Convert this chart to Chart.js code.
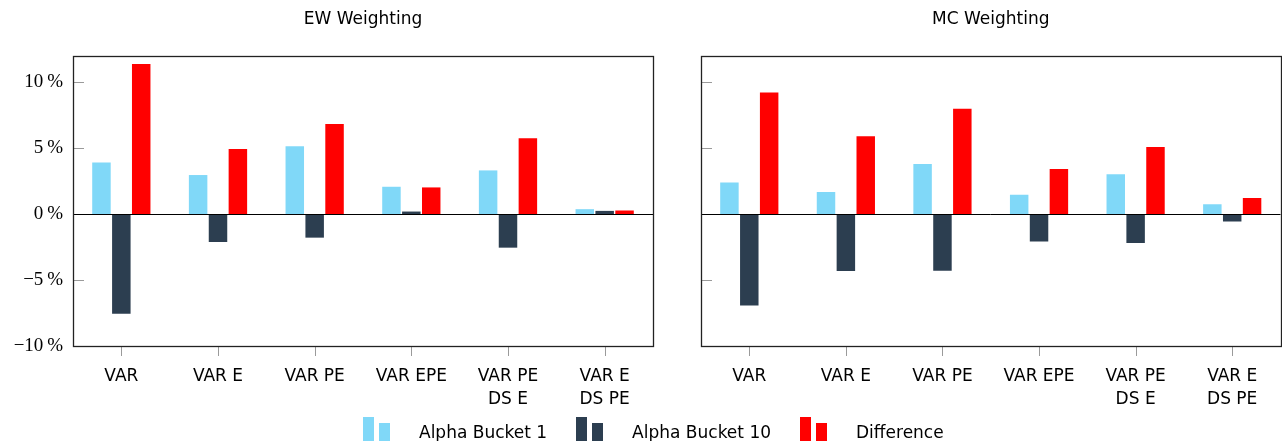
<!DOCTYPE html>
<html>
<head>
<meta charset="utf-8">
<script src="https://cdn.jsdelivr.net/npm/chart.js@4/dist/chart.umd.min.js"></script>
<style>
  html, body { margin:0; padding:0; background:#fff; overflow:hidden; }
  #wrap { position:relative; width:1282px; height:441px; }
  canvas { position:absolute; top:0; }
  #ew { left:0; }
  #mc { left:660px; }
  #legend { position:absolute; left:363px; top:417px; display:flex; align-items:flex-start;
    font-family:"DejaVu Sans", sans-serif; font-size:17px; line-height:17px; color:#000; }
  .icon { display:flex; align-items:flex-start; margin-right:29px; }
  .icon span { display:block; width:11px; height:40px; }
  .icon span + span { margin-left:5px; margin-top:6px; }
  .lbl { margin-top:7px; margin-right:29px; white-space:nowrap; }
</style>
</head>
<body>
<div id="wrap">
  <canvas id="ew" width="660" height="441"></canvas>
  <canvas id="mc" width="622" height="441"></canvas>
  <div id="legend"></div>
</div>
<script>
// categories (multi-line labels as arrays)
const categories = [['VAR'], ['VAR E'], ['VAR PE'], ['VAR EPE'], ['VAR PE', 'DS E'], ['VAR E', 'DS PE']];
const seriesNames = ['Alpha Bucket 1', 'Alpha Bucket 10', 'Difference'];
const seriesColors = ['#80d8f8', '#2c3e50', '#ff0000'];
const yTicks = [-10, -5, 0, 5, 10];
const yMin = -10, yMax = 12;

// EW weighting (%)
const ewBucket1  = [3.93, 2.97, 5.15, 2.08, 3.32, 0.38];
const ewBucket10 = [-7.56, -2.11, -1.78, 0.20, -2.54, 0.25];
const ewDiff     = [11.40, 4.95, 6.85, 2.03, 5.76, 0.28];

// MC weighting (%)
const mcBucket1  = [2.41, 1.68, 3.81, 1.47, 3.02, 0.76];
const mcBucket10 = [-6.93, -4.31, -4.29, -2.08, -2.18, -0.56];
const mcDiff     = [9.24, 5.91, 8.00, 3.43, 5.10, 1.22];

Chart.defaults.color = '#000';
Chart.defaults.font.family = '"DejaVu Sans", sans-serif';

// frame, inner y ticks, outer x ticks, zero line, panel title
const framePlugin = {
  id: 'frame',
  afterDatasetsDraw(chart, args, opts){
    const {ctx, chartArea:a, scales:{x, y}} = chart;
    const line = (x1,y1,x2,y2)=>{ ctx.beginPath(); ctx.moveTo(x1,y1); ctx.lineTo(x2,y2); ctx.stroke(); };
    ctx.save();
    ctx.strokeStyle = '#9a9a9a'; ctx.lineWidth = 1;
    y.ticks.forEach(t=>{
      const py = Math.round(y.getPixelForValue(t.value)) + 0.5;
      line(a.left, py, a.left + 11, py);
    });
    x.ticks.forEach((t,i)=>{
      const px = Math.round(x.getPixelForTick(i)) + 0.5;
      line(px, a.bottom, px, a.bottom + 10);
    });
    ctx.strokeStyle = '#000'; ctx.lineWidth = 1;
    const zy = Math.round(y.getPixelForValue(0)) + 0.5;
    line(a.left, zy, a.right, zy);
    ctx.strokeStyle = '#222'; ctx.lineWidth = 1.3;
    ctx.strokeRect(Math.round(a.left)+0.5, Math.round(a.top)+0.5, Math.round(a.width), Math.round(a.height));
    ctx.fillStyle = '#000';
    ctx.font = '17px "DejaVu Sans", sans-serif';
    ctx.textAlign = 'center'; ctx.textBaseline = 'middle';
    ctx.fillText(opts.text, (a.left + a.right)/2, 20);
    ctx.restore();
  }
};

function makeChart(id, title, b1, b10, diff, showYLabels, yWidth, padRight){
  const data = [b1, b10, diff];
  return new Chart(document.getElementById(id), {
    type: 'bar',
    data: {
      labels: categories,
      datasets: seriesNames.map((name, i)=>({
        label: name, data: data[i], backgroundColor: seriesColors[i],
        borderWidth: 0, categoryPercentage: 0.617, barPercentage: 0.93
      }))
    },
    options: {
      responsive: false, animation: false,
      layout: { padding: { top: 56, bottom: 0, left: 0, right: padRight } },
      plugins: { legend: { display: false }, title: { display: false }, tooltip: { enabled: false },
        frame: { text: title } },
      scales: {
        x: {
          grid: { display: false, drawTicks: false }, border: { display: false },
          ticks: { padding: 19, maxRotation: 0, autoSkip: false,
            font: { family: '"DejaVu Sans", sans-serif', size: 17, lineHeight: 1.35 } },
          afterFit(s){ s.height = 95; }
        },
        y: {
          min: yMin, max: yMax,
          grid: { display: false, drawTicks: false }, border: { display: false },
          afterBuildTicks(s){ s.ticks = yTicks.map(v=>({ value: v })); },
          ticks: { display: showYLabels, padding: 10,
            font: { family: '"Liberation Serif", serif', size: 19 },
            callback: v => (v < 0 ? '\u2212' + Math.abs(v) : v) + '\u2009%' },
          afterFit(s){ s.width = yWidth; }
        }
      }
    },
    plugins: [framePlugin]
  });
}

makeChart('ew', 'EW Weighting', ewBucket1, ewBucket10, ewDiff, true, 73, 7);
makeChart('mc', 'MC Weighting', mcBucket1, mcBucket10, mcDiff, false, 41, 1.5);

// legend
const legend = document.getElementById('legend');
seriesNames.forEach((name, i)=>{
  const icon = document.createElement('div'); icon.className = 'icon';
  icon.innerHTML = `<span style="background:${seriesColors[i]}"></span><span style="background:${seriesColors[i]}"></span>`;
  const lbl = document.createElement('div'); lbl.className = 'lbl'; lbl.textContent = name;
  legend.appendChild(icon); legend.appendChild(lbl);
});
</script>
</body>
</html>
